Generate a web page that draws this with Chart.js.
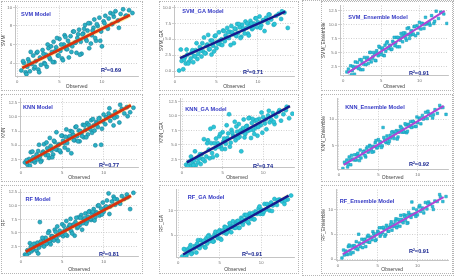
<!DOCTYPE html>
<html>
<head>
<meta charset="utf-8">
<script src="https://cdn.jsdelivr.net/npm/chart.js@4"></script>
<style>
  html, body { margin: 0; padding: 0; background: #fff; }
  body { width: 454px; height: 276px; position: relative; overflow: hidden; }
  .box { position: absolute; box-sizing: border-box; border: 1px dotted #b5b5b5; }
  canvas { position: absolute; }
</style>
</head>
<body>
<script>
// observed values, shared by all nine models
const observed = [
  0.5, 0.8, 1.0, 1.2, 1.3, 1.5, 1.7, 1.9, 2.0, 2.2,
  2.3, 2.5, 2.7, 2.8, 3.0, 3.2, 3.4, 3.5, 3.7, 3.9,
  4.1, 4.3, 4.4, 4.6, 4.8, 5.0, 5.1, 5.3, 5.5, 5.6,
  5.8, 6.0, 6.1, 6.3, 6.5, 6.6, 6.8, 7.0, 7.1, 7.3,
  7.5, 7.6, 7.8, 8.0, 8.1, 8.3, 8.5, 8.6, 8.8, 9.0,
  9.1, 9.3, 9.5, 9.7, 9.9, 10.0, 10.2, 10.4, 10.6, 10.8,
  11.0, 11.2, 11.4, 11.6, 11.9, 12.2, 12.5, 12.8, 13.2, 13.6,
  0.7, 1.1, 1.4, 1.6, 2.1, 2.4, 2.6, 3.1, 3.3, 3.6,
  3.8, 4.0, 4.2, 4.5, 4.7, 4.9, 5.2, 5.4, 5.7, 5.9,
  6.2, 6.4, 6.7, 6.9, 7.2, 7.4, 7.7, 7.9, 8.2, 8.4,
  8.7, 8.9, 9.2, 9.4, 9.8, 10.3, 10.7, 11.3, 12.0, 12.9
];

// predicted values per model
const svm = [
  3.2, 4.0, 3.0, 3.6, 4.4, 3.1, 3.9, 4.8, 3.4, 4.2,
  5.1, 3.3, 4.6, 3.8, 5.4, 4.0, 4.9, 3.6, 5.6, 4.4,
  5.2, 6.3, 4.1, 5.7, 4.8, 6.6, 5.3, 4.5, 6.0, 7.0,
  5.5, 6.4, 4.6, 6.9, 5.8, 7.4, 6.2, 5.1, 6.7, 7.6,
  6.3, 5.0, 7.2, 8.1, 6.6, 7.5, 5.6, 8.3, 7.0, 7.8,
  8.7, 6.4, 8.0, 8.9, 7.4, 5.8, 8.5, 9.1, 7.9, 8.8,
  9.4, 8.2, 9.0, 9.6, 8.6, 9.3, 9.8, 9.1, 9.7, 9.4,
  4.2, 2.8, 4.1, 5.2, 3.6, 5.2, 3.0, 5.0, 3.9, 6.0,
  4.6, 5.8, 4.1, 5.3, 6.7, 4.8, 6.0, 4.3, 6.8, 5.5,
  6.0, 5.2, 7.4, 6.2, 7.1, 4.9, 7.1, 7.7, 6.4, 8.3,
  6.1, 7.5, 6.7, 8.2, 6.4, 8.3, 7.7, 9.3, 7.8, 9.1
];
const svmGA = [
  0.1, 1.6, 0.3, 2.2, 1.2, 2.6, 1.5, 2.0, 2.9, 1.4,
  2.4, 3.3, 1.9, 2.7, 3.8, 2.3, 3.1, 5.3, 2.8, 4.2,
  3.4, 4.8, 2.6, 4.0, 5.5, 3.6, 4.6, 6.1, 4.2, 5.0,
  6.4, 4.7, 5.6, 6.8, 5.2, 6.2, 7.1, 5.8, 4.4, 6.6,
  7.4, 6.0, 6.9, 5.4, 7.3, 6.5, 7.8, 6.8, 5.9, 7.2,
  7.9, 6.6, 7.5, 8.3, 6.9, 7.7, 8.6, 7.2, 8.0, 6.3,
  8.4, 7.6, 8.9, 8.1, 7.3, 8.7, 9.0, 8.2, 9.2, 6.8,
  3.4, 1.8, 3.4, 1.2, 3.3, 2.3, 4.4, 3.2, 4.4, 2.8,
  4.0, 5.7, 3.5, 4.8, 3.1, 5.6, 4.3, 4.8, 4.1, 6.3,
  5.2, 6.1, 4.1, 6.1, 6.7, 5.5, 7.4, 5.2, 6.7, 5.9,
  7.5, 5.6, 7.5, 6.8, 8.3, 6.8, 8.0, 8.9, 7.4, 9.4
];
const svmEns = [
  1.5, 0.7, 2.6, 1.7, 2.5, 1.1, 2.4, 3.2, 2.1, 3.7,
  1.9, 3.2, 2.9, 4.1, 2.8, 4.1, 3.7, 5.0, 3.3, 4.2,
  4.8, 3.5, 5.3, 4.4, 5.9, 5.0, 5.6, 4.5, 6.3, 5.2,
  6.9, 5.8, 6.3, 5.5, 7.0, 6.7, 6.2, 7.7, 6.0, 7.6,
  7.2, 8.4, 6.9, 8.1, 8.5, 7.2, 8.2, 9.4, 8.1, 8.9,
  8.2, 9.6, 8.0, 9.8, 9.4, 10.4, 9.2, 10.2, 9.3, 11.3,
  10.1, 10.3, 9.9, 11.6, 10.2, 12.4, 11.1, 12.2, 11.9, 10.2,
  2.0, 1.0, 2.2, 3.3, 2.2, 3.7, 1.9, 3.8, 3.0, 5.0,
  3.9, 5.0, 3.6, 4.8, 6.1, 4.6, 5.8, 4.4, 6.7, 5.7,
  6.2, 5.6, 7.7, 6.7, 7.7, 6.0, 7.8, 8.5, 7.6, 9.3,
  7.5, 8.8, 8.3, 9.7, 8.4, 10.2, 10.0, 10.3, 10.6, 12.2
];
const knn = [
  2.0, 1.6, 2.6, 3.8, 2.2, 2.9, 2.0, 3.4, 2.5, 5.1,
  3.0, 2.3, 3.9, 5.2, 3.3, 4.5, 2.8, 6.3, 4.1, 3.4,
  5.6, 7.3, 4.2, 5.2, 3.8, 6.7, 5.8, 4.6, 7.8, 5.4,
  6.4, 7.5, 3.6, 6.9, 5.9, 8.2, 6.6, 7.6, 5.7, 7.1,
  8.6, 6.4, 7.7, 8.9, 6.9, 8.0, 9.4, 7.2, 8.5, 5.0,
  9.1, 8.2, 9.8, 5.1, 9.2, 10.4, 8.7, 9.9, 10.6, 9.3,
  10.2, 8.5, 10.9, 10.0, 9.0, 11.4, 10.6, 11.7, 10.8, 11.6,
  2.4, 1.4, 3.9, 2.4, 4.0, 2.1, 3.6, 5.5, 3.3, 4.9,
  2.9, 5.8, 4.3, 5.0, 4.1, 6.7, 5.4, 6.5, 4.2, 6.6,
  7.4, 5.9, 8.3, 5.7, 7.5, 6.6, 8.5, 6.4, 8.6, 7.8,
  9.6, 7.6, 8.9, 9.7, 7.9, 9.9, 11.5, 9.8, 12.1, 10.1
];
const knnGA = [
  1.6, 2.1, 1.4, 2.5, 1.8, 2.3, 1.5, 2.8, 2.0, 3.4,
  1.7, 2.6, 6.0, 2.2, 3.0, 5.8, 2.7, 7.8, 3.6, 8.1,
  4.4, 3.2, 5.3, 6.5, 4.8, 7.2, 5.6, 4.3, 8.4, 6.2,
  10.3, 5.4, 7.6, 6.6, 9.0, 5.8, 7.3, 8.6, 6.4, 3.9,
  7.9, 9.4, 6.9, 8.3, 7.4, 9.7, 6.2, 8.8, 7.6, 9.2,
  8.0, 6.6, 9.5, 8.4, 7.1, 9.8, 8.7, 7.7, 10.1, 8.9,
  9.4, 10.5, 8.6, 9.9, 10.7, 9.2, 10.3, 11.0, 9.6, 10.4,
  1.3, 3.0, 1.5, 3.9, 2.7, 3.4, 2.5, 5.3, 4.2, 5.3,
  2.9, 5.3, 6.1, 4.7, 6.9, 4.3, 6.1, 5.2, 7.0, 4.7,
  7.1, 6.4, 8.2, 6.2, 7.5, 7.2, 6.3, 8.2, 9.6, 7.6,
  9.5, 6.9, 9.3, 8.1, 10.6, 9.4, 10.9, 9.0, 11.0, 11.6
];
const knnEns = [
  0.6, 1.6, 2.2, 1.4, 2.8, 1.3, 2.4, 2.2, 3.2, 2.2,
  3.2, 2.9, 4.1, 2.6, 3.4, 3.9, 2.8, 4.4, 3.7, 5.0,
  4.2, 4.8, 3.8, 5.5, 4.5, 6.1, 5.0, 5.6, 4.9, 8.4,
  6.0, 5.5, 6.8, 5.4, 6.9, 6.4, 7.6, 6.3, 7.3, 7.8,
  6.6, 7.5, 8.6, 7.5, 8.1, 7.5, 8.9, 7.4, 9.0, 8.6,
  9.5, 8.5, 9.4, 8.6, 10.4, 9.3, 10.1, 9.1, 10.7, 10.1,
  11.3, 10.1, 11.0, 10.7, 10.2, 11.8, 11.1, 12.6, 12.2, 10.9,
  1.8, 0.9, 2.2, 3.1, 2.3, 3.5, 2.1, 3.8, 3.1, 4.7,
  3.9, 4.8, 3.7, 4.8, 5.9, 4.6, 5.7, 4.6, 6.5, 5.7,
  6.2, 5.8, 7.5, 6.8, 7.6, 6.2, 7.8, 8.4, 7.6, 9.1,
  7.7, 8.8, 8.4, 9.6, 8.6, 10.2, 10.0, 11.5, 10.8, 12.2
];
const rf = [
  1.0, 1.8, 1.3, 2.4, 1.6, 2.0, 2.7, 1.7, 3.2, 2.3,
  7.0, 2.8, 3.6, 2.5, 4.1, 3.1, 5.3, 3.4, 4.4, 3.7,
  5.6, 4.0, 6.2, 4.6, 5.0, 6.6, 4.4, 5.5, 7.2, 4.5,
  6.1, 7.6, 5.3, 6.5, 4.5, 7.0, 5.9, 7.9, 6.4, 8.3,
  6.8, 7.5, 8.6, 7.1, 8.0, 9.0, 7.4, 8.5, 9.4, 7.9,
  8.8, 10.0, 8.2, 9.5, 10.6, 8.9, 9.7, 11.0, 12.3, 9.9,
  10.8, 11.7, 10.2, 11.2, 10.6, 11.8, 11.3, 12.1, 9.4, 12.4,
  0.9, 3.1, 2.0, 3.0, 1.2, 3.4, 4.1, 3.0, 5.0, 2.9,
  4.4, 3.6, 5.2, 3.5, 5.4, 4.8, 6.3, 4.7, 5.8, 6.5,
  4.9, 6.5, 7.8, 6.1, 7.8, 5.6, 7.7, 6.7, 8.9, 7.6,
  8.9, 7.3, 8.7, 10.1, 8.4, 9.9, 8.5, 11.3, 10.4, 11.6
];
const rfGA = [
  0.7, 2.1, 0.9, 2.2, 1.7, 3.0, 1.4, 2.3, 2.8, 1.5,
  3.3, 2.5, 4.0, 3.0, 3.7, 2.6, 4.4, 3.3, 5.0, 3.9,
  4.6, 3.8, 5.2, 4.9, 4.4, 6.0, 4.3, 5.9, 5.5, 6.7,
  5.3, 6.5, 5.9, 7.0, 6.6, 7.8, 6.5, 7.4, 7.8, 6.5,
  7.6, 8.5, 7.1, 9.1, 8.1, 8.8, 7.4, 9.4, 8.3, 9.3,
  8.2, 9.8, 9.3, 10.4, 9.3, 10.2, 9.3, 11.3, 10.2, 11.1,
  10.0, 11.6, 11.0, 12.3, 11.1, 12.2, 11.8, 11.3, 12.2, 13.0,
  2.2, 1.4, 2.5, 1.2, 2.6, 4.0, 2.4, 3.9, 2.5, 4.8,
  3.8, 4.3, 3.7, 5.7, 4.8, 5.7, 4.1, 5.9, 6.6, 5.6,
  7.4, 5.6, 7.0, 6.5, 7.9, 6.5, 8.2, 7.7, 9.1, 7.7,
  8.8, 9.4, 8.2, 9.6, 10.8, 9.7, 11.3, 9.9, 12.1, 12.0
];
const rfEns = [
  0.2, 0.8, 1.6, 0.9, 2.5, 1.6, 2.6, 1.3, 2.7, 2.1,
  3.5, 1.9, 3.2, 2.5, 4.0, 3.2, 4.0, 2.5, 4.5, 3.4,
  4.4, 3.9, 5.5, 4.6, 3.9, 5.6, 5.4, 4.6, 6.3, 5.3,
  6.1, 4.9, 6.8, 5.6, 6.4, 6.9, 5.8, 7.0, 6.6, 8.1,
  6.7, 8.0, 6.6, 8.0, 7.6, 8.9, 7.8, 8.8, 7.3, 9.0,
  8.7, 11.5, 10.2, 9.1, 9.9, 8.9, 10.5, 9.6, 10.3, 9.3,
  11.4, 10.1, 11.5, 11.1, 10.6, 11.7, 11.6, 13.0, 11.6, 12.6,
  1.8, 1.0, 2.8, 1.0, 2.6, 2.1, 5.0, 2.3, 3.9, 3.5,
  4.8, 3.4, 4.4, 5.1, 3.7, 5.1, 6.3, 4.9, 6.4, 4.6,
  6.4, 5.6, 7.5, 6.5, 7.6, 6.3, 7.5, 8.8, 7.3, 8.5,
  7.2, 9.4, 8.4, 9.0, 8.6, 10.8, 10.0, 11.2, 10.0, 12.5
];

const models = ['SVM', 'SVM_GA', 'SVM_Ensemble', 'KNN', 'KNN_GA', 'KNN_Ensemble', 'RF', 'RF_GA', 'RF_Ensemble'];
const predictions = [svm, svmGA, svmEns, knn, knnGA, knnEns, rf, rfGA, rfEns];
const r2Values = ['0.69', '0.71', '0.91', '0.77', '0.74', '0.92', '0.81', '0.91', '0.91'];
// regression lines
const fitSlope = [0.45, 0.575, 0.875, 0.80, 0.764, 0.884, 0.816, 0.936, 0.907];
const fitIntercept = [3.2, 1.7, 0.8, 1.4, 1.54, 0.75, 1.03, 0.54, 0.44];
const fitX = [0.6, 13.3];

// page layout: box [x0,y0,x1,y1], plot area [l,t,r,b], axis ranges, y step, text spots
const panels = [
  { box: [1, 1, 143, 91],   area: [15, 2, 140, 76],   x: [-0.25, 14.3], y: [2.6, 10.2],  step: 2,   title: [36, 14],  r2: [111, 70] },
  { box: [159, 1, 299, 91], area: [174, 3, 296, 76],  x: [-0.12, 14.4], y: [-0.76, 10.3], step: 2.5, title: [203, 11], r2: [253, 72] },
  { box: [321, 1, 453, 91], area: [340, 3, 449, 75],  x: [-0.4, 13.8],  y: [0.95, 13.4], step: 2.5, title: [378, 17], r2: [419, 73] },
  { box: [1, 94, 143, 182], area: [20, 95, 140, 167], x: [-0.1, 14.2],  y: [1.2, 13.2],  step: 2.5, title: [38, 107], r2: [109, 165] },
  { box: [159, 94, 299, 182], area: [180, 94, 294, 167], x: [-0.25, 13.8], y: [1.2, 13.0], step: 2.5, title: [206, 109], r2: [263, 166] },
  { box: [321, 94, 453, 182], area: [337, 94, 449, 169], x: [-0.25, 13.9], y: [0.5, 13.9], step: 5, title: [375, 107], r2: [419, 164] },
  { box: [1, 185, 143, 274], area: [20, 186, 140, 256], x: [-0.1, 14.2], y: [0.74, 13.0], step: 2.5, title: [38, 199], r2: [109, 254] },
  { box: [159, 185, 299, 274], area: [176, 186, 296, 257], x: [-0.25, 14.0], y: [0.6, 14.2], step: 5, title: [206, 197], r2: [252, 254] },
  { box: [321, 185, 453, 274], area: [336, 186, 449, 260], x: [-0.25, 13.9], y: [-0.2, 14.0], step: 5, title: [367, 201], r2: [419, 251] }
];

const lineColors = ['#d8320e', '#161b8e', '#b046d4'];
const glowColors = ['rgba(255,226,80,0.5)', 'rgba(255,242,170,0.4)', null];
const lineWidths = [2.8, 2.5, 2];
const pointStyles = [
  { bg: '#2ab1c4', border: '#17809a', style: 'circle', r: 2 },
  { bg: '#2cc6d8', border: '#1ea6bc', style: 'circle', r: 2 },
  { bg: '#2ac2da', border: '#1a9cba', style: 'rect', r: 1.8 }
];

const FONT = '"Liberation Sans", Arial, sans-serif';

const panelText = {
  id: 'panelText',
  afterDatasetsDraw(chart, args, opts) {
    const ctx = chart.ctx;
    ctx.save();
    ctx.textAlign = 'center';
    ctx.textBaseline = 'middle';
    ctx.font = 'bold 5.6px ' + FONT;
    ctx.fillStyle = '#3439c4';
    ctx.fillText(opts.title, opts.tx, opts.ty);
    ctx.fillStyle = '#15228e';
    ctx.fillText(opts.r2, opts.rx, opts.ry);
    ctx.restore();
  }
};

document.body.insertAdjacentHTML('beforeend', '<div class="box" style="left:302px;top:0;width:152px;height:276px"></div>');

panels.forEach((p, k) => {
  const col = k % 3;
  const [bx0, by0, bx1, by1] = p.box;
  const [l, t, r, b] = p.area;
  const w = bx1 - bx0, h = by1 - by0;

  const frame = document.createElement('div');
  frame.className = 'box';
  frame.style.cssText = `left:${bx0}px;top:${by0}px;width:${w}px;height:${h}px`;
  document.body.appendChild(frame);

  const cv = document.createElement('canvas');
  cv.width = w; cv.height = h;
  cv.style.left = bx0 + 'px'; cv.style.top = by0 + 'px';
  cv.style.width = w + 'px'; cv.style.height = h + 'px';
  document.body.appendChild(cv);

  const pts = observed.map((x, i) => ({ x: x, y: predictions[k][i] }));
  const fit = fitX.map(x => ({ x: x, y: fitSlope[k] * x + fitIntercept[k] }));
  const ps = pointStyles[col];

  const datasets = [
    { type: 'line', data: fit, borderColor: lineColors[col], borderWidth: lineWidths[col], pointRadius: 0, order: 1 },
    { type: 'scatter', data: pts, backgroundColor: ps.bg, borderColor: ps.border, borderWidth: 0.6,
      pointStyle: ps.style, pointRadius: ps.r, order: 2 }
  ];
  if (glowColors[col]) {
    datasets.push({ type: 'line', data: fit, borderColor: glowColors[col], borderWidth: lineWidths[col] + 2,
      pointRadius: 0, order: 3 });
  }

  const fmt = v => (p.step === 2.5 ? v.toFixed(1) : String(v));

  new Chart(cv, {
    type: 'scatter',
    data: { datasets: datasets },
    plugins: [panelText],
    options: {
      responsive: false,
      animation: false,
      devicePixelRatio: 1,
      layout: { padding: { top: t - by0, right: bx1 - r, left: 0, bottom: 0 } },
      plugins: {
        legend: { display: false },
        tooltip: { enabled: false },
        panelText: {
          title: models[k] + ' Model', tx: p.title[0] - bx0, ty: p.title[1] - by0,
          r2: 'R\u00b2=' + r2Values[k], rx: p.r2[0] - bx0, ry: p.r2[1] - by0
        }
      },
      scales: {
        x: {
          type: 'linear', min: p.x[0], max: p.x[1],
          afterFit(s) { s.height = by1 - b; },
          ticks: { stepSize: 5, includeBounds: false, font: { size: 4.2, family: FONT }, color: '#707070', padding: 1, maxRotation: 0 },
          grid: { color: '#c4c4c4', lineWidth: 0.8, tickLength: 2 },
          border: { display: true, color: '#c4c4c4', dash: [1, 1.5] },
          title: { display: true, text: 'Observed', font: { size: 5, family: FONT }, color: '#444', padding: { top: 1, bottom: 1 } }
        },
        y: {
          type: 'linear', min: p.y[0], max: p.y[1],
          afterFit(s) { s.width = l - bx0; },
          ticks: { stepSize: p.step, includeBounds: false, font: { size: 4.2, family: FONT }, color: '#707070', padding: 1, callback: fmt },
          grid: { color: '#c4c4c4', lineWidth: 0.8, tickLength: 2 },
          border: { display: true, color: '#c4c4c4', dash: [1, 1.5] },
          title: { display: true, text: models[k], font: { size: 5, family: FONT }, color: '#444', padding: { top: 0, bottom: 1 } }
        }
      }
    }
  });
});
</script>
</body>
</html>
